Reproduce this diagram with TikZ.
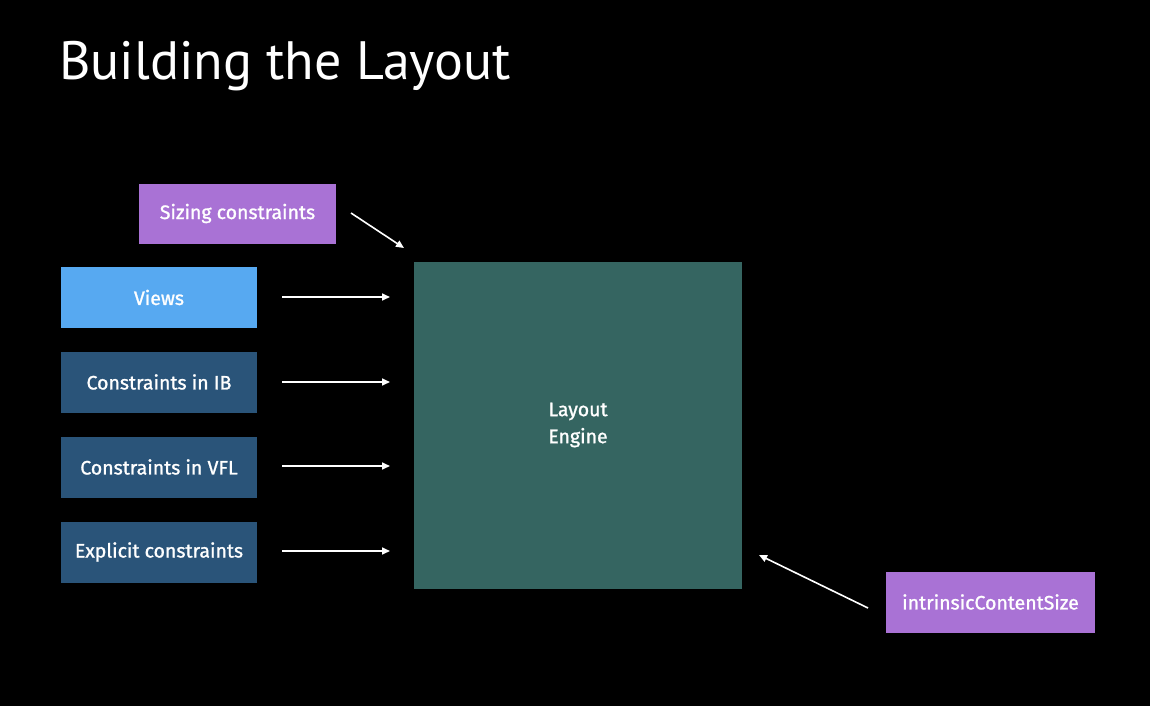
\documentclass[tikz,border=0pt]{standalone}
\usepackage{fontspec}
\setmainfont{PT Sans}
\newfontfamily\boxfont[FakeBold=1.2]{Fira Sans}
\usetikzlibrary{arrows.meta}
\definecolor{bgc}{HTML}{000000}
\definecolor{purp}{HTML}{A972D5}
\definecolor{viewblue}{HTML}{57A9F1}
\definecolor{consblue}{HTML}{2A5479}
\definecolor{engine}{HTML}{356561}
\tikzset{
  box/.style={draw=none, minimum width=196pt, minimum height=61pt, inner sep=0pt, text=white, font=\boxfont\fontsize{19.5}{22}\selectfont},
  arr/.style={draw=white, line width=1.6pt, -{Triangle[length=8pt,width=7pt]}},
}
\begin{document}
\begin{tikzpicture}[x=1pt,y=-1pt]
\useasboundingbox (0,0) rectangle (1150,706);
\fill[bgc] (0,0) rectangle (1150,706);
\node[anchor=base west, text=white, font=\fontsize{54}{60}\selectfont, inner sep=0pt] (title) at (59,80) {Building the Layout};
\node[box, fill=purp, minimum width=197pt, minimum height=60pt] (sizing) at (237.5,213.5) {Sizing constraints};
\node[box, fill=viewblue] (views) at (159,297.5) {Views};
\node[box, fill=consblue] (ib) at (159,382) {Constraints in IB};
\node[box, fill=consblue] (vfl) at (159,467) {Constraints in VFL};
\node[box, fill=consblue] (expl) at (159,552) {Explicit constraints};
\node[box, fill=engine, minimum width=328pt, minimum height=327pt, align=center, font=\boxfont\fontsize{19.5}{27}\selectfont] (engine) at (578,425) {Layout\\Engine};
\node[box, fill=purp, minimum width=209pt, minimum height=61pt] (ics) at (990.5,602) {intrinsicContentSize};
\coordinate (vs) at (282,297); \coordinate (ve) at (390,297);
\coordinate (is) at (282,382); \coordinate (ie) at (390,382);
\coordinate (fs) at (282,466); \coordinate (fe) at (390,466);
\coordinate (es) at (282,551); \coordinate (ee) at (390,551);
\coordinate (ss) at (351,213); \coordinate (se) at (404,248);
\coordinate (cs) at (868,608); \coordinate (ce) at (759,555);
\draw[arr] (vs) -- (ve);
\draw[arr] (is) -- (ie);
\draw[arr] (fs) -- (fe);
\draw[arr] (es) -- (ee);
\draw[arr] (ss) -- (se);
\draw[arr] (cs) -- (ce);
\end{tikzpicture}
\end{document}
